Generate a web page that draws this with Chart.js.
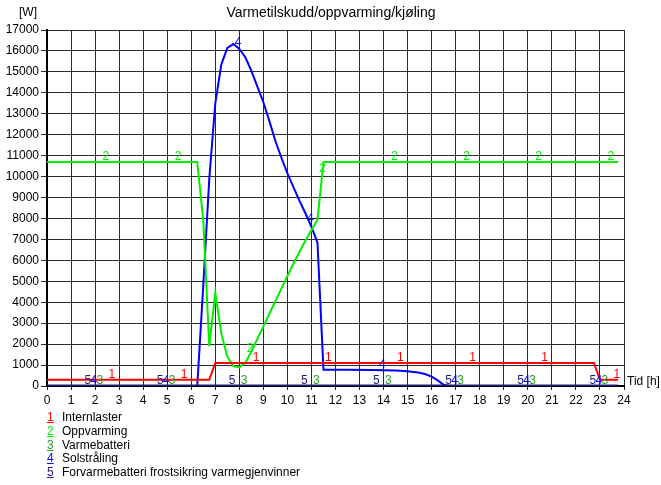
<!DOCTYPE html>
<html>
<head>
<meta charset="utf-8">
<script src="https://cdn.jsdelivr.net/npm/chart.js@4"></script>
<style>
  html, body { margin: 0; padding: 0; background: #fff; }
  body { font-family: Arial, "Liberation Sans", sans-serif; font-size: 12px; color: #000; }
  .wrap { position: relative; width: 661px; height: 485px; }
  .lbl { position: absolute; white-space: nowrap; line-height: 14px; }
  .title { position: absolute; left: 131px; width: 400px; top: 4px; text-align: center; font-size: 14px; line-height: 16px; }
  .legend-row { position: absolute; left: 47px; white-space: nowrap; line-height: 14px; }
  .legend-row .num { display: inline-block; width: 15px; text-decoration: underline; }
</style>
</head>
<body>
<div class="wrap">
  <canvas id="line-chart" width="661" height="485"></canvas>
  <div class="title">Varmetilskudd/oppvarming/kjøling</div>
  <div class="lbl" style="left:19px; top:5px;">[W]</div>
  <div class="lbl" style="left:627px; top:374px;">Tid [h]</div>
  <div id="legend"></div>
</div>
<script>
const seriesNames = ['Internlaster', 'Oppvarming', 'Varmebatteri', 'Solstråling', 'Forvarmebatteri frostsikring varmegjenvinner'];
const seriesColors = ['#ff0000', '#00ee00', '#2a9a2a', '#0000ff', '#1c1c80'];

// Internlaster
const internHours = [0, 6.75, 7.0, 22.75, 23.0, 23.75];
const internW = [300, 300, 1100, 1100, 300, 300];

// Oppvarming
const heatHours = [0, 6.25, 6.5, 6.75, 7.0, 7.25, 7.5, 7.75, 8.0, 8.25, 8.5, 8.75, 9.0, 9.25, 9.5, 9.75, 10.0, 10.25, 10.5, 10.75, 11.0, 11.25, 11.5, 23.75];
const heatW = [10700, 10700, 7900, 1900, 4450, 2500, 1400, 950, 890, 1100, 1650, 2250, 2850, 3450, 4050, 4650, 5250, 5850, 6400, 6950, 7450, 7930, 10700, 10700];

// Varmebatteri
const batteryHours = [0, 23.75];
const batteryW = [0, 0];

// Solstråling
const solarHours = [0, 6.25, 6.5, 6.75, 7.0, 7.25, 7.5, 7.75, 8.0, 8.25, 8.5, 8.75, 9.0, 9.25, 9.5, 9.75, 10.0, 10.25, 10.5, 10.75, 11.0, 11.25, 11.5, 12.5, 13.5, 14.0, 14.5, 15.0, 15.5, 15.75, 16.0, 16.25, 16.5, 16.75, 23.75];
const solarW = [0, 0, 4800, 9900, 13500, 15350, 16150, 16330, 16100, 15700, 15050, 14300, 13550, 12650, 11700, 10900, 10150, 9500, 8850, 8250, 7600, 6850, 780, 775, 765, 755, 735, 700, 630, 560, 450, 270, 60, 0, 0];

// Forvarmebatteri frostsikring varmegjenvinner
const preheatHours = [0, 23.75];
const preheatW = [0, 0];

const xTicks = { min: 0, max: 24, step: 1 };
const yTicks = { min: 0, max: 17000, step: 1000 };

const toPoints = (hs, vs) => hs.map((h, i) => ({ x: h, y: vs[i] }));
const allSeries = [
  toPoints(internHours, internW),
  toPoints(heatHours, heatW),
  toPoints(batteryHours, batteryW),
  toPoints(solarHours, solarW),
  toPoints(preheatHours, preheatW)
];
const drawOrder = [1, 2, 5, 4, 0];
const widths = [2, 2, 2, 2, 3];

const FONT = 'Arial, "Liberation Sans", sans-serif';
Chart.defaults.font.family = FONT;
Chart.defaults.font.size = 12;
Chart.defaults.color = '#000';

// the little series numbers that sit on each curve every 3 hours
const valueAt = (pts, h) => {
  for (let i = 1; i < pts.length; i++) {
    if (h <= pts[i].x) {
      const a = pts[i - 1], b = pts[i];
      return a.y + (b.y - a.y) * (h - a.x) / (b.x - a.x);
    }
  }
  return null;
};
const curveNumbers = {
  id: 'curveNumbers',
  afterDatasetsDraw(chart) {
    const { ctx, scales: { x, y } } = chart;
    ctx.save();
    ctx.font = '12px ' + FONT;
    ctx.textAlign = 'center';
    ctx.textBaseline = 'bottom';
    chart.data.datasets.forEach((ds, i) => {
      ctx.fillStyle = seriesColors[i];
      for (let k = 0; k < 8; k++) {
        const h = 2.7 - 0.25 * i + 3 * k;
        const v = valueAt(ds.data, h);
        if (v === null) continue;
        ctx.fillText(String(i + 1), x.getPixelForValue(h), y.getPixelForValue(v) + 1);
      }
    });
    ctx.restore();
  }
};

const legend = document.getElementById('legend');
seriesNames.forEach((name, i) => {
  const row = document.createElement('div');
  row.className = 'legend-row';
  row.style.top = (410 + i * 13.75) + 'px';
  row.innerHTML = `<span class="num" style="color:${seriesColors[i]}">${i + 1}</span>${name}`;
  legend.appendChild(row);
});

const ctx = document.getElementById('line-chart');
new Chart(ctx, {
  type: 'line',
  data: {
    datasets: allSeries.map((pts, i) => ({
      label: seriesNames[i],
      data: pts,
      borderColor: seriesColors[i],
      backgroundColor: seriesColors[i],
      borderWidth: widths[i],
      pointRadius: 0,
      tension: 0,
      order: drawOrder[i]
    }))
  },
  options: {
    responsive: false,
    animation: false,
    layout: { padding: { left: 0, right: 37, top: 30, bottom: 69 } },
    plugins: {
      legend: { display: false },
      tooltip: { enabled: false },
      title: { display: false }
    },
    scales: {
      x: {
        type: 'linear',
        min: xTicks.min,
        max: xTicks.max,
        ticks: { stepSize: xTicks.step, padding: 3, maxRotation: 0, autoSkip: false, color: '#000' },
        grid: { color: '#2a2a2a', lineWidth: 1, tickLength: 4 },
        border: { color: '#000', width: 2 },
        afterFit(scale) { scale.height = 30; }
      },
      y: {
        min: yTicks.min,
        max: yTicks.max,
        ticks: { stepSize: yTicks.step, padding: 2, color: '#000', callback: v => String(v) },
        grid: { color: '#2a2a2a', lineWidth: 1, tickLength: 6 },
        border: { color: '#000', width: 2 },
        afterFit(scale) { scale.width = 47; }
      }
    }
  },
  plugins: [curveNumbers]
});
</script>
</body>
</html>
